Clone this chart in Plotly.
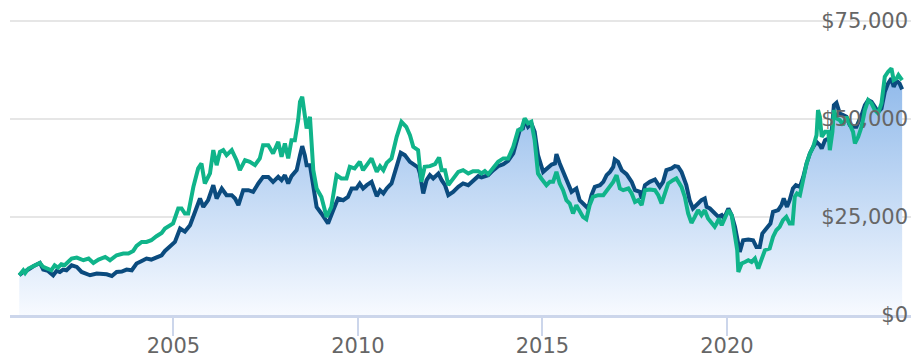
import plotly.graph_objects as go

# Growth of a $10,000 investment, sampled in decimal years
fund_years = [
    2000.82, 2000.93, 2001.07, 2001.20, 2001.38, 2001.47, 2001.60, 2001.74, 2001.83, 2001.92,
    2002.01, 2002.10, 2002.24, 2002.38, 2002.51, 2002.74, 2002.92, 2003.19, 2003.33, 2003.46,
    2003.60, 2003.73, 2003.87, 2004.00, 2004.14, 2004.27, 2004.40, 2004.54, 2004.68, 2004.77,
    2004.90, 2005.04, 2005.18, 2005.31, 2005.45, 2005.58, 2005.72, 2005.81, 2005.94, 2006.08,
    2006.17, 2006.31, 2006.44, 2006.58, 2006.67, 2006.76, 2006.89, 2007.03, 2007.16, 2007.30,
    2007.43, 2007.57, 2007.70, 2007.84, 2007.93, 2008.02, 2008.11, 2008.20, 2008.34, 2008.43,
    2008.49, 2008.56, 2008.61, 2008.70, 2008.79, 2008.88, 2009.01, 2009.19, 2009.33, 2009.46,
    2009.60, 2009.73, 2009.83, 2009.96, 2010.05, 2010.14, 2010.24, 2010.37, 2010.51, 2010.60,
    2010.69, 2010.78, 2010.91, 2011.05, 2011.16, 2011.27, 2011.41, 2011.54, 2011.63, 2011.68,
    2011.77, 2011.86, 2011.95, 2012.04, 2012.18, 2012.27, 2012.36, 2012.45, 2012.58, 2012.72,
    2012.85, 2012.99, 2013.12, 2013.26, 2013.35, 2013.44, 2013.53, 2013.67, 2013.80, 2013.94,
    2014.07, 2014.21, 2014.34, 2014.39, 2014.47, 2014.52, 2014.61, 2014.70, 2014.79, 2014.88,
    2015.02, 2015.16, 2015.25, 2015.34, 2015.38, 2015.47, 2015.56, 2015.65, 2015.79, 2015.92,
    2016.01, 2016.15, 2016.24, 2016.33, 2016.42, 2016.56, 2016.65, 2016.74, 2016.83, 2016.92,
    2016.96, 2017.05, 2017.15, 2017.28, 2017.42, 2017.51, 2017.64, 2017.69, 2017.78, 2017.91,
    2018.05, 2018.18, 2018.27, 2018.36, 2018.50, 2018.59, 2018.68, 2018.77, 2018.90, 2018.99,
    2019.08, 2019.22, 2019.31, 2019.40, 2019.45, 2019.54, 2019.67, 2019.77, 2019.86, 2019.92,
    2020.04, 2020.13, 2020.22, 2020.31, 2020.35, 2020.44, 2020.58, 2020.71, 2020.80, 2020.89,
    2020.96, 2021.07, 2021.18, 2021.25, 2021.39, 2021.48, 2021.54, 2021.63, 2021.70, 2021.79,
    2021.87, 2021.98, 2022.07, 2022.16, 2022.25, 2022.34, 2022.43, 2022.52, 2022.57, 2022.66,
    2022.75, 2022.84, 2022.90, 2022.97, 2023.06, 2023.15, 2023.24, 2023.33, 2023.42, 2023.51,
    2023.65, 2023.74, 2023.83, 2023.92, 2024.01, 2024.10, 2024.19, 2024.28, 2024.37, 2024.46,
    2024.52, 2024.60, 2024.68, 2024.75,
]
fund_values = [
    10130, 10970, 11580, 12420, 13265, 11580, 11225, 10128, 11225, 10970,
    11580, 11400, 12680, 12245, 10970, 10128, 10560, 10380, 9950, 10970,
    11070, 11580, 11400, 13110, 13775, 14390, 14130, 14795, 15230, 16330,
    17350, 18620, 22040, 21250, 22900, 25870, 29690, 27550, 29260, 33090,
    29690, 32245, 30535, 30535, 29690, 27985, 31810, 31810, 31380, 33520,
    35200, 35200, 33930, 35200, 34360, 35640, 33520, 35380, 36910, 40740,
    43035, 40740, 38190, 38190, 33090, 27550, 25870, 23315, 26710, 29690,
    29260, 30100, 32245, 32245, 33500, 32245, 33090, 33930, 30280, 31810,
    30970, 32245, 33520, 37755, 41330, 40740, 39030, 38190, 37600, 36070,
    30970, 34360, 35640, 34795, 36070, 34360, 33090, 30535, 31380, 32655,
    33520, 33090, 34360, 35380, 35050, 35380, 35640, 36910, 37935, 38445,
    39285, 41175, 45410, 47295, 47550, 49845, 47960, 48825, 46680, 40740,
    36480, 37755, 38365, 38620, 40995, 38620, 36480, 34360, 31380, 32245,
    29260, 27985, 27140, 30535, 32655, 33090, 33930, 35640, 36480, 37755,
    39640, 39030, 36910, 35890, 33930, 31810, 31380, 29690, 33090, 33930,
    34540, 32655, 33930, 36910, 37350, 37935, 37755, 36480, 33090, 29260,
    27140, 28420, 29260, 29690, 27550, 27140, 25870, 25000, 25435, 24590,
    27140, 25435, 22450, 18620, 16070, 19055, 19235, 19055, 17350, 17350,
    20765, 22040, 23315, 26275, 26710, 27985, 29690, 27550, 29260, 32245,
    33090, 32655, 35200, 38620, 41175, 42860, 44130, 43290, 42450, 44565,
    45000, 46680, 53495, 54085, 51375, 50945, 50510, 48395, 47960, 47960,
    50945, 53495, 54770, 54340, 53060, 51785, 52650, 56890, 59030, 60305,
    58165, 59695, 59030, 57500,
]

bench_years = [
    2000.82, 2000.93, 2000.98, 2001.07, 2001.20, 2001.38, 2001.47, 2001.60, 2001.69, 2001.78,
    2001.87, 2001.96, 2002.05, 2002.24, 2002.38, 2002.56, 2002.70, 2002.83, 2002.97, 2003.15,
    2003.28, 2003.46, 2003.64, 2003.78, 2003.91, 2004.00, 2004.14, 2004.27, 2004.40, 2004.54,
    2004.68, 2004.77, 2004.90, 2004.99, 2005.13, 2005.22, 2005.31, 2005.40, 2005.54, 2005.67,
    2005.76, 2005.85, 2005.99, 2006.08, 2006.17, 2006.26, 2006.35, 2006.44, 2006.58, 2006.71,
    2006.80, 2006.94, 2007.07, 2007.21, 2007.34, 2007.43, 2007.57, 2007.70, 2007.84, 2007.93,
    2008.02, 2008.11, 2008.20, 2008.29, 2008.38, 2008.43, 2008.49, 2008.56, 2008.61, 2008.70,
    2008.79, 2008.88, 2009.01, 2009.15, 2009.28, 2009.42, 2009.55, 2009.69, 2009.78, 2009.91,
    2010.05, 2010.14, 2010.24, 2010.37, 2010.51, 2010.60, 2010.69, 2010.78, 2010.91, 2011.05,
    2011.18, 2011.31, 2011.41, 2011.50, 2011.63, 2011.72, 2011.81, 2011.95, 2012.09, 2012.20,
    2012.27, 2012.36, 2012.45, 2012.58, 2012.72, 2012.85, 2012.99, 2013.12, 2013.26, 2013.35,
    2013.44, 2013.53, 2013.67, 2013.80, 2013.94, 2014.07, 2014.21, 2014.34, 2014.43, 2014.52,
    2014.61, 2014.70, 2014.79, 2014.88, 2014.97, 2015.11, 2015.20, 2015.29, 2015.38, 2015.47,
    2015.56, 2015.65, 2015.74, 2015.83, 2015.92, 2016.01, 2016.10, 2016.19, 2016.28, 2016.37,
    2016.51, 2016.65, 2016.78, 2016.92, 2017.01, 2017.10, 2017.19, 2017.33, 2017.42, 2017.51,
    2017.60, 2017.69, 2017.78, 2017.91, 2018.05, 2018.14, 2018.23, 2018.32, 2018.41, 2018.54,
    2018.63, 2018.77, 2018.86, 2018.95, 2019.04, 2019.13, 2019.22, 2019.31, 2019.40, 2019.49,
    2019.58, 2019.67, 2019.72, 2019.79, 2019.86, 2019.95, 2020.04, 2020.13, 2020.22, 2020.28,
    2020.31, 2020.40, 2020.49, 2020.58, 2020.67, 2020.76, 2020.85, 2020.94, 2021.03, 2021.16,
    2021.25, 2021.34, 2021.43, 2021.52, 2021.61, 2021.70, 2021.78, 2021.84, 2021.90, 2021.98,
    2022.05, 2022.16, 2022.25, 2022.34, 2022.43, 2022.47, 2022.52, 2022.57, 2022.66, 2022.75,
    2022.79, 2022.86, 2022.90, 2022.97, 2023.06, 2023.15, 2023.24, 2023.33, 2023.42, 2023.47,
    2023.56, 2023.65, 2023.74, 2023.83, 2023.92, 2024.01, 2024.10, 2024.19, 2024.28, 2024.37,
    2024.46, 2024.52, 2024.60, 2024.65, 2024.75,
]
bench_values = [
    10130, 11400, 10715, 11840, 12420, 13265, 12245, 11840, 11400, 12680,
    12090, 12935, 12680, 14390, 14640, 13955, 14390, 13265, 14130, 14795,
    13955, 15230, 15660, 15660, 16330, 17600, 18620, 18620, 19055, 20075,
    20920, 22040, 22880, 23315, 27140, 27140, 25870, 25870, 32655, 37350,
    38620, 33520, 36070, 42015, 38190, 41580, 42015, 40740, 42015, 39465,
    36910, 39465, 39030, 38190, 39900, 43290, 43290, 41175, 44130, 40300,
    43720, 39900, 44565, 44565, 49670, 54340, 55610, 51375, 47550, 50510,
    36910, 32245, 30100, 25000, 27550, 35640, 34795, 34795, 37755, 37350,
    39030, 36910, 38190, 39900, 36480, 37935, 36910, 38775, 39900, 45410,
    49235, 47960, 45840, 42860, 42015, 33930, 37755, 37935, 38445, 40155,
    36910, 36910, 33090, 34540, 36480, 36910, 36070, 36660, 36660, 36070,
    36660, 35890, 37350, 39030, 39900, 39900, 42860, 47120, 47295, 50100,
    48825, 49235, 44565, 36070, 34795, 33090, 33930, 33930, 36480, 33520,
    31810, 29260, 28420, 25870, 27985, 26710, 25000, 24415, 27985, 30100,
    30535, 30535, 32245, 33930, 35640, 32245, 31810, 32245, 30970, 28825,
    29260, 27985, 31810, 31985, 31810, 30535, 28420, 31380, 33520, 34360,
    34795, 32655, 30100, 25870, 23470, 25000, 26710, 25435, 26710, 24590,
    23500, 22500, 23315, 24590, 22880, 24590, 26710, 25435, 20765, 16505,
    10970, 13110, 13520, 13955, 13520, 14390, 11840, 13955, 16505, 16940,
    19900, 21610, 22450, 24160, 25000, 23315, 23315, 30100, 30970, 30535,
    33520, 38620, 41175, 42860, 45840, 52220, 50510, 45410, 46680, 46680,
    42015, 46680, 52220, 50100, 49670, 48395, 50510, 48395, 46680, 43720,
    45410, 47960, 52220, 54770, 53930, 52220, 51375, 53930, 60715, 61990,
    62855, 59870, 60305, 61150, 59870,
]

year_ticks = [2005, 2010, 2015, 2020]
value_ticks = [0, 25000, 50000, 75000]
value_labels = ["${:,}".format(v) for v in value_ticks]

FUND_COLOR = "#0b4b7e"
BENCH_COLOR = "#10b48a"
TEXT_COLOR = "#666666"
AXIS_COLOR = "#ccd6eb"
Y_RANGE = [0, 77730]
LABEL_FONT = dict(family="DejaVu Sans", size=21, color=TEXT_COLOR)

fig = go.Figure()

fig.add_trace(go.Scatter(
    x=fund_years, y=fund_values,
    mode="lines",
    line=dict(color=FUND_COLOR, width=4),
    fill="tozeroy",
    fillgradient=dict(
        type="vertical",
        colorscale=[[0, "#f7faff"], [1, "#84b2e8"]],
        start=0, stop=68000,
    ),
    hoverinfo="skip",
))

# benchmark drawn on an overlaid axis sharing the same range, so it sits on top
fig.add_trace(go.Scatter(
    x=bench_years, y=bench_values,
    yaxis="y2",
    mode="lines",
    line=dict(color=BENCH_COLOR, width=4),
    hoverinfo="skip",
))

fig.update_layout(
    width=920, height=358,
    margin=dict(l=10, r=9, t=10, b=43, autoexpand=False),
    paper_bgcolor="white",
    plot_bgcolor="white",
    showlegend=False,
    font=LABEL_FONT,
    xaxis=dict(
        range=[2000.57, 2024.99],
        tickvals=year_ticks,
        ticktext=[str(y) for y in year_ticks],
        automargin=False,
        showgrid=False,
        zeroline=False,
        showline=True,
        linecolor=AXIS_COLOR,
        linewidth=2.5,
        ticks="outside",
        ticklen=18,
        tickwidth=2,
        tickcolor=AXIS_COLOR,
        ticklabelstandoff=-8,
        tickfont=LABEL_FONT,
        fixedrange=True,
    ),
    yaxis=dict(
        range=Y_RANGE,
        tickvals=value_ticks,
        automargin=False,
        showticklabels=False,
        showgrid=True,
        gridcolor="#e6e6e6",
        gridwidth=2,
        zeroline=False,
        showline=False,
        ticks="",
        fixedrange=True,
    ),
    # value labels: right-aligned just inside the right edge of the plot
    yaxis2=dict(
        range=Y_RANGE,
        overlaying="y",
        anchor="free",
        side="left",
        position=0.9967,
        tickvals=value_ticks,
        ticktext=value_labels,
        automargin=False,
        showgrid=False,
        zeroline=False,
        showline=False,
        ticks="",
        tickfont=LABEL_FONT,
        fixedrange=True,
    ),
)

fig.write_html("out.html", config={"displayModeBar": False})
